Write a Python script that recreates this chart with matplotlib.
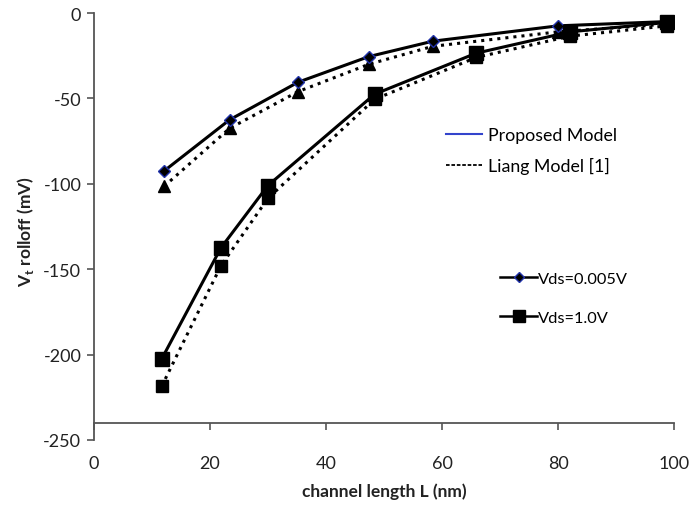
import matplotlib
matplotlib.use("Agg")
import matplotlib.pyplot as plt
from matplotlib.lines import Line2D

plt.rcParams['font.family'] = ['Lato', 'DejaVu Sans']
plt.rcParams['axes.unicode_minus'] = False

# channel length (nm)
L_low = [12.1, 23.4, 35.2, 47.4, 58.4, 80.0, 98.8]
L_high = [11.7, 21.9, 30.0, 48.4, 65.9, 82.1, 98.8]

# Vt rolloff (mV), Vds = 0.005 V
prop_low = [-92.5, -62.5, -40.5, -25.5, -16.5, -7.5, -5.0]
liang_low = [-101.5, -67.5, -46.0, -30.0, -19.5, -11.0, -6.5]

# Vt rolloff (mV), Vds = 1.0 V
prop_high = [-202.5, -137.5, -101.0, -47.5, -23.5, -11.0, -5.5]
liang_high = [-218.5, -148.0, -108.5, -50.5, -26.0, -13.5, -7.5]

fig = plt.figure(figsize=(6.9, 5.1), dpi=100)
ax = fig.add_axes([0.136, 0.1353, 0.841, 0.8372])

# Liang model (dotted, drawn first so proposed sits on top)
ax.plot(L_low, liang_low, color='black', ls=':', lw=2.2, marker='^', ms=9,
        mfc='black', mec='black', zorder=2)
ax.plot(L_high, liang_high, color='black', ls=':', lw=2.2, marker='s', ms=9,
        mfc='black', mec='black', zorder=2)

# proposed model (solid)
ax.plot(L_low, prop_low, color='black', ls='-', lw=2.2, marker='D', ms=6,
        mfc='black', mec='#2233aa', mew=1.0, zorder=3)
ax.plot(L_high, prop_high, color='black', ls='-', lw=2.2, marker='s', ms=10,
        mfc='black', mec='black', zorder=3)

ax.set_xlim(0, 100)
ax.set_ylim(-250, 0)
ax.set_xticks([0, 20, 40, 60, 80, 100])
ax.set_yticks([0, -50, -100, -150, -200, -250])

ax.spines['top'].set_visible(False)
ax.spines['right'].set_visible(False)
ax.spines['bottom'].set_position(('data', -240))
ax.spines['bottom'].set_color('#555555')
ax.spines['left'].set_color('#555555')
ax.spines['bottom'].set_linewidth(1.3)
ax.spines['left'].set_linewidth(1.3)
ax.tick_params(axis='x', direction='out', length=5, width=1.2, color='#555555',
               pad=18, labelsize=13, labelcolor='#222222')
ax.tick_params(axis='y', direction='out', length=5, width=1.2, color='#555555',
               pad=4, labelsize=13, labelcolor='#222222')

ax.set_xlabel('channel length L (nm)', fontsize=12.5, fontweight='bold', color='#222222')
ax.xaxis.set_label_coords(0.5, -0.10)
ax.set_ylabel('V$_\\mathregular{t}$ rolloff (mV)', fontsize=12.5, fontweight='bold', color='#222222')
ax.yaxis.set_label_coords(-0.10, 0.49)

model_handles = [
    Line2D([], [], color='#3344cc', lw=1.5, ls='-'),
    Line2D([], [], color='black', lw=1.3, ls=(0, (2, 1))),
]
leg1 = ax.legend(model_handles, ['Proposed Model', 'Liang Model [1]'],
                 loc='upper left', bbox_to_anchor=(0.58, 0.77), frameon=False,
                 fontsize=12.8, handlelength=2.0, handletextpad=0.35, labelspacing=0.8)
ax.add_artist(leg1)

vds_handles = [
    Line2D([], [], color='black', lw=1.8, marker='D', ms=5, mfc='black', mec='#2233aa'),
    Line2D([], [], color='black', lw=1.8, marker='s', ms=8, mfc='black', mec='black'),
]
ax.legend(vds_handles, ['Vds=0.005V', 'Vds=1.0V'],
          loc='upper left', bbox_to_anchor=(0.675, 0.43), frameon=False,
          fontsize=11.8, handlelength=2.25, handletextpad=0.05, labelspacing=1.5)

fig.savefig('out.png', dpi=100)
